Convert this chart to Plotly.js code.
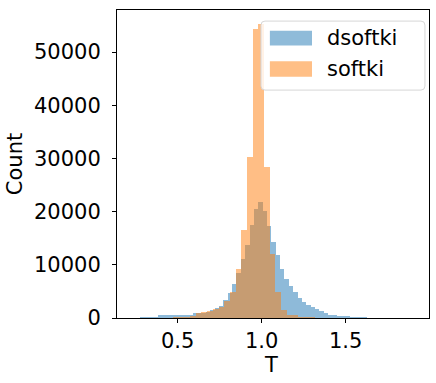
<!DOCTYPE html>
<html>
<head>
<meta charset="utf-8">
<script src="https://cdn.plot.ly/plotly-3.0.1.min.js"></script>
<style>
  html, body { margin: 0; padding: 0; background: #fff; }
  #chart { width: 436px; height: 383px; }
</style>
</head>
<body>
<div id="chart"></div>
<script>
// histogram counts
var blueStart = 0.2778;   // left edge of first dsoftki bin
var blueWidth = 0.026;
var blueCounts = [250, 250, 250, 250, 500, 500, 500, 500, 620, 620, 620, 650,
  880, 1000, 1000, 1190, 1500, 1940, 2250, 3380, 4640, 6390, 8400, 11090,
  13720, 17480, 20430, 21810, 20120, 17300, 14290, 11840, 9150, 7290, 6080,
  4950, 3820, 3070, 2500, 2070, 1640, 1260, 880, 560, 560, 380, 380, 380,
  190, 190, 190, 190];

var orangeStart = 0.4728; // left edge of first softki bin
var orangeWidth = 0.0338;
var orangeCounts = [100, 150, 190, 430, 880, 1070, 1320, 1690, 2130, 3250,
  4890, 9150, 16540, 30330, 54330, 55270, 28440, 12030, 4950, 1500, 560, 560,
  250, 250, 250];

var seriesNames = ['dsoftki', 'softki'];
var colors = ['#1f77b4', '#ff7f0e'];
var xTicks = [0.5, 1.0, 1.5];
var yTicks = [0, 10000, 20000, 30000, 40000, 50000];

function centers(start, w, n) {
  var out = [];
  for (var i = 0; i < n; i++) out.push(start + w * (i + 0.5));
  return out;
}

var trace1 = {
  x: centers(blueStart, blueWidth, blueCounts.length),
  y: blueCounts,
  width: blueWidth,
  name: seriesNames[0],
  type: 'bar',
  opacity: 0.5,
  marker: {color: colors[0], line: {width: 0}}
};
var trace2 = {
  x: centers(orangeStart, orangeWidth, orangeCounts.length),
  y: orangeCounts,
  width: orangeWidth,
  name: seriesNames[1],
  type: 'bar',
  opacity: 0.5,
  marker: {color: colors[1], line: {width: 0}}
};

var font = {family: 'DejaVu Sans', size: 21, color: '#000'};

// matplotlib-style legend: rounded frame with wide patches (paper coords)
var plotW = 312, plotH = 308;
function roundRect(x0, y0, x1, y1, r) {
  var rx = r / plotW, ry = r / plotH;
  return 'M' + (x0 + rx) + ',' + y1 +
    ' L' + (x1 - rx) + ',' + y1 + ' Q' + x1 + ',' + y1 + ' ' + x1 + ',' + (y1 - ry) +
    ' L' + x1 + ',' + (y0 + ry) + ' Q' + x1 + ',' + y0 + ' ' + (x1 - rx) + ',' + y0 +
    ' L' + (x0 + rx) + ',' + y0 + ' Q' + x0 + ',' + y0 + ' ' + x0 + ',' + (y0 + ry) +
    ' L' + x0 + ',' + (y1 - ry) + ' Q' + x0 + ',' + y1 + ' ' + (x0 + rx) + ',' + y1 + ' Z';
}

var shapes = [
  {type: 'path', xref: 'paper', yref: 'paper', layer: 'above',
   path: roundRect(0.4615, 0.740, 0.987, 0.964, 4),
   fillcolor: 'rgba(255,255,255,0.8)', line: {color: '#d6d6d6', width: 1}},
  {type: 'rect', xref: 'paper', yref: 'paper', layer: 'above',
   x0: 0.490, x1: 0.625, y0: 0.885, y1: 0.933,
   fillcolor: colors[0], opacity: 0.5, line: {width: 0}},
  {type: 'rect', xref: 'paper', yref: 'paper', layer: 'above',
   x0: 0.490, x1: 0.625, y0: 0.783, y1: 0.834,
   fillcolor: colors[1], opacity: 0.5, line: {width: 0}}
];
var annotations = [
  {xref: 'paper', yref: 'paper', x: 0.668, y: 0.909, xanchor: 'left', yanchor: 'middle',
   text: seriesNames[0], showarrow: false, font: font},
  {xref: 'paper', yref: 'paper', x: 0.668, y: 0.808, xanchor: 'left', yanchor: 'middle',
   text: seriesNames[1], showarrow: false, font: font},
  // x axis label, placed like matplotlib's
  {xref: 'paper', yref: 'paper', x: 0.493, y: -0.152, xanchor: 'center', yanchor: 'middle',
   text: 'T', showarrow: false, font: font}
];

var layout = {
  width: 436, height: 383,
  margin: {l: 117, r: 7, t: 10, b: 65},
  barmode: 'overlay',
  bargap: 0,
  paper_bgcolor: '#fff',
  plot_bgcolor: '#fff',
  font: font,
  showlegend: false,
  shapes: shapes,
  annotations: annotations,
  xaxis: {
    range: [0.139, 1.996],
    tickvals: xTicks, tickformat: '.1f',
    ticks: 'outside', ticklen: 4, tickwidth: 1, tickcolor: '#000',
    showline: true, mirror: true, linecolor: '#000', linewidth: 1,
    showgrid: false, zeroline: false
  },
  yaxis: {
    range: [0, 57900],
    tickvals: yTicks, tickformat: 'd',
    ticks: 'outside', ticklen: 4, tickwidth: 1, tickcolor: '#000',
    ticklabelstandoff: 7,
    showline: true, mirror: true, linecolor: '#000', linewidth: 1,
    showgrid: false, zeroline: false,
    title: {text: 'Count', font: font, standoff: 5}
  }
};

Plotly.newPlot('chart', [trace1, trace2], layout, {displayModeBar: false, staticPlot: true});
</script>
</body>
</html>
